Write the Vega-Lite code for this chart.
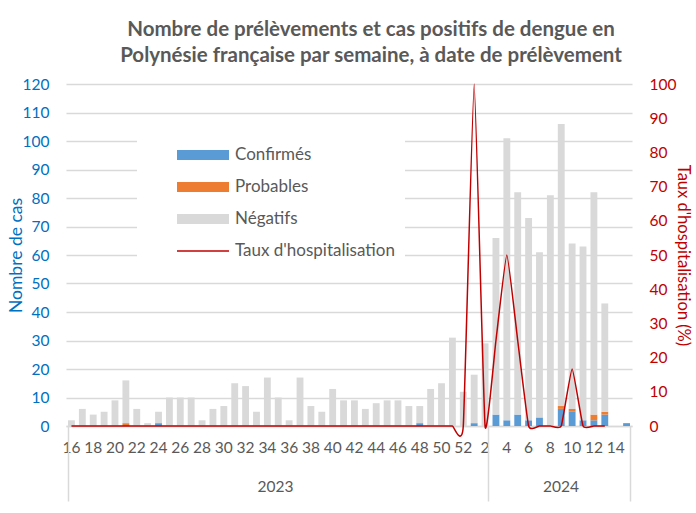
{
  "$schema": "https://vega.github.io/schema/vega-lite/v6.json",
  "width": 566,
  "height": 342,
  "autosize": {"type": "none"},
  "padding": {"left": 66, "top": 84, "right": 64, "bottom": 87},
  "background": "white",
  "title": {
    "text": ["Nombre de prélèvements et cas positifs de dengue en", "Polynésie française par semaine, à date de prélèvement"],
    "font": "Lato", "fontSize": 20.5, "fontWeight": "bold", "color": "#595959",
    "lineHeight": 26, "anchor": "middle", "dx": 22, "offset": 11
  },
  "config": {"view": {"stroke": null}, "font": "Lato"},
  "data": {
    "values": [
      {"annee": 2023, "semaine": 16, "Confirmés": 0, "Probables": 0, "Négatifs": 2, "taux": 0},
      {"annee": 2023, "semaine": 17, "Confirmés": 0, "Probables": 0, "Négatifs": 6, "taux": 0},
      {"annee": 2023, "semaine": 18, "Confirmés": 0, "Probables": 0, "Négatifs": 4, "taux": 0},
      {"annee": 2023, "semaine": 19, "Confirmés": 0, "Probables": 0, "Négatifs": 5, "taux": 0},
      {"annee": 2023, "semaine": 20, "Confirmés": 0, "Probables": 0, "Négatifs": 9, "taux": 0},
      {"annee": 2023, "semaine": 21, "Confirmés": 0, "Probables": 1, "Négatifs": 15, "taux": 0},
      {"annee": 2023, "semaine": 22, "Confirmés": 0, "Probables": 0, "Négatifs": 6, "taux": 0},
      {"annee": 2023, "semaine": 23, "Confirmés": 0, "Probables": 0, "Négatifs": 1, "taux": 0},
      {"annee": 2023, "semaine": 24, "Confirmés": 1, "Probables": 0, "Négatifs": 4, "taux": 0},
      {"annee": 2023, "semaine": 25, "Confirmés": 0, "Probables": 0, "Négatifs": 10, "taux": 0},
      {"annee": 2023, "semaine": 26, "Confirmés": 0, "Probables": 0, "Négatifs": 10, "taux": 0},
      {"annee": 2023, "semaine": 27, "Confirmés": 0, "Probables": 0, "Négatifs": 10, "taux": 0},
      {"annee": 2023, "semaine": 28, "Confirmés": 0, "Probables": 0, "Négatifs": 2, "taux": 0},
      {"annee": 2023, "semaine": 29, "Confirmés": 0, "Probables": 0, "Négatifs": 6, "taux": 0},
      {"annee": 2023, "semaine": 30, "Confirmés": 0, "Probables": 0, "Négatifs": 7, "taux": 0},
      {"annee": 2023, "semaine": 31, "Confirmés": 0, "Probables": 0, "Négatifs": 15, "taux": 0},
      {"annee": 2023, "semaine": 32, "Confirmés": 0, "Probables": 0, "Négatifs": 14, "taux": 0},
      {"annee": 2023, "semaine": 33, "Confirmés": 0, "Probables": 0, "Négatifs": 5, "taux": 0},
      {"annee": 2023, "semaine": 34, "Confirmés": 0, "Probables": 0, "Négatifs": 17, "taux": 0},
      {"annee": 2023, "semaine": 35, "Confirmés": 0, "Probables": 0, "Négatifs": 10, "taux": 0},
      {"annee": 2023, "semaine": 36, "Confirmés": 0, "Probables": 0, "Négatifs": 2, "taux": 0},
      {"annee": 2023, "semaine": 37, "Confirmés": 0, "Probables": 0, "Négatifs": 17, "taux": 0},
      {"annee": 2023, "semaine": 38, "Confirmés": 0, "Probables": 0, "Négatifs": 7, "taux": 0},
      {"annee": 2023, "semaine": 39, "Confirmés": 0, "Probables": 0, "Négatifs": 5, "taux": 0},
      {"annee": 2023, "semaine": 40, "Confirmés": 0, "Probables": 0, "Négatifs": 13, "taux": 0},
      {"annee": 2023, "semaine": 41, "Confirmés": 0, "Probables": 0, "Négatifs": 9, "taux": 0},
      {"annee": 2023, "semaine": 42, "Confirmés": 0, "Probables": 0, "Négatifs": 9, "taux": 0},
      {"annee": 2023, "semaine": 43, "Confirmés": 0, "Probables": 0, "Négatifs": 6, "taux": 0},
      {"annee": 2023, "semaine": 44, "Confirmés": 0, "Probables": 0, "Négatifs": 8, "taux": 0},
      {"annee": 2023, "semaine": 45, "Confirmés": 0, "Probables": 0, "Négatifs": 9, "taux": 0},
      {"annee": 2023, "semaine": 46, "Confirmés": 0, "Probables": 0, "Négatifs": 9, "taux": 0},
      {"annee": 2023, "semaine": 47, "Confirmés": 0, "Probables": 0, "Négatifs": 7, "taux": 0},
      {"annee": 2023, "semaine": 48, "Confirmés": 1, "Probables": 0, "Négatifs": 6, "taux": 0},
      {"annee": 2023, "semaine": 49, "Confirmés": 0, "Probables": 0, "Négatifs": 13, "taux": 0},
      {"annee": 2023, "semaine": 50, "Confirmés": 0, "Probables": 0, "Négatifs": 15, "taux": 0},
      {"annee": 2023, "semaine": 51, "Confirmés": 0, "Probables": 0, "Négatifs": 31, "taux": 0},
      {"annee": 2023, "semaine": 52, "Confirmés": 0, "Probables": 0, "Négatifs": 12, "taux": 0},
      {"annee": 2023, "semaine": 1, "Confirmés": 1, "Probables": 0, "Négatifs": 17, "taux": 100},
      {"annee": 2023, "semaine": 2, "Confirmés": 0, "Probables": 0, "Négatifs": 29, "taux": 0},
      {"annee": 2024, "semaine": 3, "Confirmés": 4, "Probables": 0, "Négatifs": 62, "taux": 25},
      {"annee": 2024, "semaine": 4, "Confirmés": 2, "Probables": 0, "Négatifs": 99, "taux": 50},
      {"annee": 2024, "semaine": 5, "Confirmés": 4, "Probables": 0, "Négatifs": 78, "taux": 25},
      {"annee": 2024, "semaine": 6, "Confirmés": 2, "Probables": 0, "Négatifs": 71, "taux": 0},
      {"annee": 2024, "semaine": 7, "Confirmés": 3, "Probables": 0, "Négatifs": 58, "taux": 0},
      {"annee": 2024, "semaine": 8, "Confirmés": 0, "Probables": 0, "Négatifs": 81, "taux": 0},
      {"annee": 2024, "semaine": 9, "Confirmés": 6, "Probables": 1, "Négatifs": 99, "taux": 0},
      {"annee": 2024, "semaine": 10, "Confirmés": 5, "Probables": 1, "Négatifs": 58, "taux": 16.7},
      {"annee": 2024, "semaine": 11, "Confirmés": 2, "Probables": 0, "Négatifs": 61, "taux": 0},
      {"annee": 2024, "semaine": 12, "Confirmés": 2, "Probables": 2, "Négatifs": 78, "taux": 0},
      {"annee": 2024, "semaine": 13, "Confirmés": 4, "Probables": 1, "Négatifs": 38, "taux": 0},
      {"annee": 2024, "semaine": 14, "Confirmés": 0, "Probables": 0, "Négatifs": 0, "taux": null},
      {"annee": 2024, "semaine": 15, "Confirmés": 1, "Probables": 0, "Négatifs": 0, "taux": null}
    ]
  },
  "layer": [
    {
      "transform": [{"fold": ["Confirmés", "Probables", "Négatifs"], "as": ["statut", "n"]}],
      "mark": {"type": "bar"},
      "encoding": {
        "x": {
          "field": "semaine", "type": "ordinal",
          "scale": {
            "domain": [16,17,18,19,20,21,22,23,24,25,26,27,28,29,30,31,32,33,34,35,36,37,38,39,40,41,42,43,44,45,46,47,48,49,50,51,52,1,2,3,4,5,6,7,8,9,10,11,12,13,14,15],
            "paddingInner": 0.37, "paddingOuter": 0.185
          },
          "axis": {
            "title": null,
            "values": [16,18,20,22,24,26,28,30,32,34,36,38,40,42,44,46,48,50,52,2,4,6,8,10,12,14],
            "domain": true, "domainColor": "#D9D9D9", "domainWidth": 1.5,
            "ticks": false, "grid": false,
            "labelAngle": 0, "labelColor": "#595959", "labelFont": "Lato", "labelFontSize": 15.5,
            "labelPadding": 14, "labelOverlap": false
          }
        },
        "y": {
          "field": "n", "type": "quantitative", "stack": "zero",
          "scale": {"domain": [0, 120]},
          "axis": {
            "title": "Nombre de cas", "titleColor": "#0070C0", "titleFont": "Lato", "titleFontSize": 17.5,
            "titleFontWeight": "normal", "titlePadding": -3,
            "values": [0,10,20,30,40,50,60,70,80,90,100,110,120],
            "labelColor": "#0070C0", "labelFont": "Lato", "labelFontSize": 15.5, "labelPadding": 17,
            "domain": false, "ticks": false,
            "grid": true, "gridColor": "#D9D9D9", "gridWidth": 1.5
          }
        },
        "color": {
          "field": "statut", "type": "nominal",
          "scale": {
            "domain": ["Confirmés", "Probables", "Négatifs", "Taux d'hospitalisation"],
            "range": ["#5B9BD5", "#ED7D31", "#D9D9D9", "#C00000"]
          },
          "legend": {
            "title": null, "orient": "none", "legendX": 71, "legendY": 48, "direction": "vertical",
            "fillColor": "white", "padding": 10,
            "symbolType": "M-2,-0.38H2V0.38H-2Z", "symbolSize": 676, "symbolOffset": 43,
            "symbolStrokeWidth": 0,
            "labelFont": "Lato", "labelFontSize": 17, "labelColor": "#595959", "labelOffset": 19,
            "rowPadding": 11,
            "encode": {
              "symbols": {
                "update": {
                  "shape": {"signal": "indexof(datum.value, 'Taux') === 0 ? 'M-2,-0.06H2V0.06H-2Z' : 'M-2,-0.38H2V0.38H-2Z'"},
                  "fill": {"scale": "color", "field": "value"},
                  "stroke": {"value": "transparent"}
                }
              }
            }
          }
        },
        "order": {"field": "semaine", "type": "quantitative"}
      }
    },
    {
      "mark": {"type": "line", "interpolate": "cardinal", "tension": 0.6, "strokeWidth": 1.5},
      "encoding": {
        "x": {
          "field": "semaine", "type": "ordinal",
          "axis": {
            "orient": "bottom", "title": null,
            "values": [16, 2, 15],
            "tickBand": "extent", "tickSize": 75, "tickColor": "#D9D9D9", "tickWidth": 1.5,
            "tickOpacity": {"condition": {"test": "datum.value == 16", "value": 0}, "value": 1},
            "domain": false, "grid": false,
            "labelExpr": "datum.value == 2 ? '2023' : datum.value == 15 ? '2024' : ''",
            "labelOffset": {"condition": {"test": "datum.value == 2", "value": -210}, "value": -66},
            "labelPadding": -22, "labelAngle": 0, "labelOverlap": false,
            "labelColor": "#595959", "labelFont": "Lato", "labelFontSize": 15.5
          }
        },
        "y": {
          "field": "taux", "type": "quantitative",
          "scale": {"domain": [0, 100]},
          "axis": {
            "orient": "right",
            "title": "Taux d'hospitalisation (%)", "titleColor": "#C00000", "titleFont": "Lato", "titleFontSize": 16.5,
            "titleFontWeight": "normal", "titlePadding": -1,
            "values": [0,10,20,30,40,50,60,70,80,90,100],
            "labelColor": "#C00000", "labelFont": "Lato", "labelFontSize": 15.5, "labelPadding": 17,
            "domain": false, "ticks": false, "grid": false
          }
        },
        "color": {"datum": "Taux d'hospitalisation", "type": "nominal"}
      }
    }
  ],
  "resolve": {"scale": {"y": "independent"}, "axis": {"x": "independent"}}
}
